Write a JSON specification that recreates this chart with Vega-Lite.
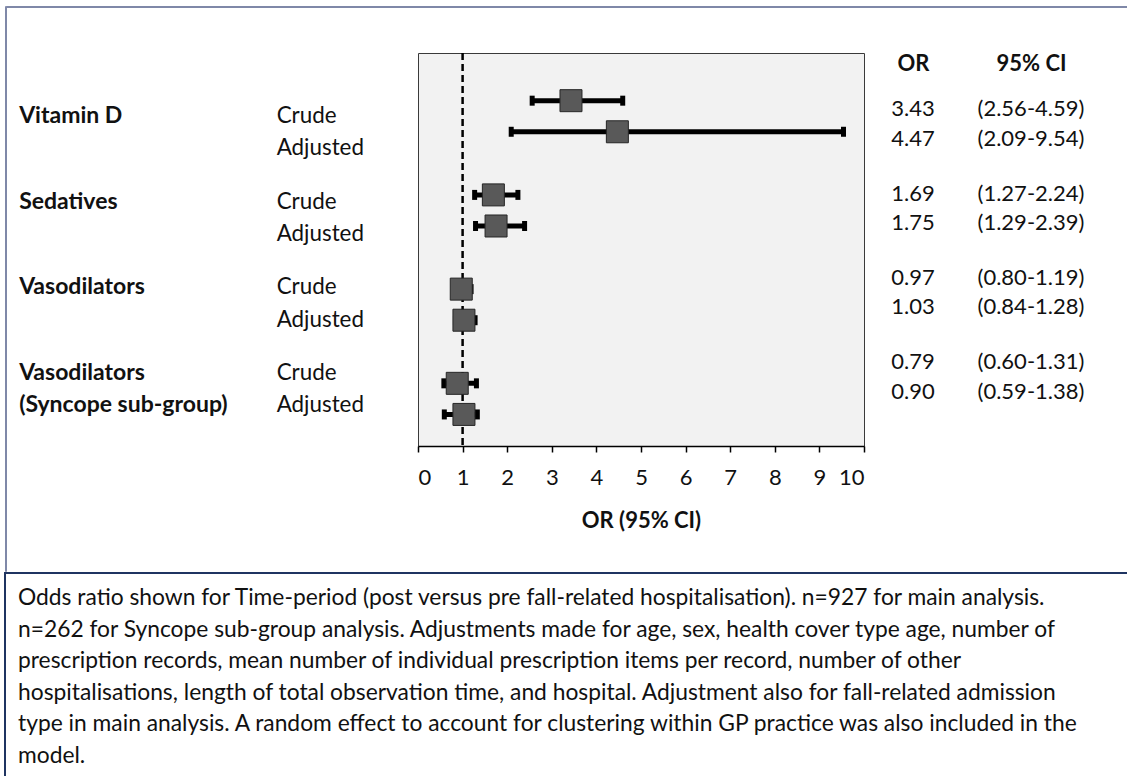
{
  "$schema": "https://vega.github.io/schema/vega-lite/v6.json",
  "padding": {"left": 4, "top": 5, "right": 0, "bottom": 0},
  "background": "white",
  "config": {"font": "Lato", "view": {"stroke": null}},
  "datasets": {
    "rows": [
      {"group": "Vitamin D", "sub": "Crude", "label": "Vitamin D", "est": 3.43, "lo": 2.56, "hi": 4.59, "OR": "3.43", "CI": "(2.56-4.59)"},
      {"group": "Vitamin D", "sub": "Adjusted", "label": "", "est": 4.47, "lo": 2.09, "hi": 9.54, "OR": "4.47", "CI": "(2.09-9.54)"},
      {"group": "Sedatives", "sub": "Crude", "label": "Sedatives", "est": 1.69, "lo": 1.27, "hi": 2.24, "OR": "1.69", "CI": "(1.27-2.24)"},
      {"group": "Sedatives", "sub": "Adjusted", "label": "", "est": 1.75, "lo": 1.29, "hi": 2.39, "OR": "1.75", "CI": "(1.29-2.39)"},
      {"group": "Vasodilators", "sub": "Crude", "label": "Vasodilators", "est": 0.97, "lo": 0.80, "hi": 1.19, "OR": "0.97", "CI": "(0.80-1.19)"},
      {"group": "Vasodilators", "sub": "Adjusted", "label": "", "est": 1.03, "lo": 0.84, "hi": 1.28, "OR": "1.03", "CI": "(0.84-1.28)"},
      {"group": "Vasodilators (Syncope sub-group)", "sub": "Crude", "label": "Vasodilators", "est": 0.88, "lo": 0.58, "hi": 1.31, "OR": "0.79", "CI": "(0.60-1.31)"},
      {"group": "Vasodilators (Syncope sub-group)", "sub": "Adjusted", "label": "(Syncope sub-group)", "est": 1.03, "lo": 0.59, "hi": 1.33, "OR": "0.90", "CI": "(0.59-1.38)"}
    ],
    "caption": [
      {"line": 1, "text": "Odds ratio shown for Time-period (post versus pre fall-related hospitalisation). n=927 for main analysis."},
      {"line": 2, "text": "n=262 for Syncope sub-group analysis. Adjustments made for age, sex, health cover type age, number of"},
      {"line": 3, "text": "prescription records, mean number of individual prescription items per record, number of other"},
      {"line": 4, "text": "hospitalisations, length of total observation time, and hospital. Adjustment also for fall-related admission"},
      {"line": 5, "text": "type in main analysis. A random effect to account for clustering within GP practice was also included in the"},
      {"line": 6, "text": "model."}
    ]
  },
  "vconcat": [
    {
      "hconcat": [
        {
          "data": {"values": [{}]},
          "width": 1,
          "height": 565,
          "view": {"stroke": "#7f88a8", "strokeWidth": 1},
          "mark": {"type": "point", "opacity": 0, "size": 0, "strokeWidth": 0},
          "encoding": {}
        },
        {
          "vconcat": [
            {
              "data": {"values": [{}]},
              "width": 1130,
              "height": 1,
              "view": {"stroke": "#7f88a8", "strokeWidth": 1},
              "mark": {"type": "point", "opacity": 0, "size": 0, "strokeWidth": 0},
              "encoding": {}
            },
            {
              "hconcat": [
                {
                  "data": {"name": "rows"},
                  "width": 412,
                  "height": 393,
                  "encoding": {
                    "y": {"field": "group", "type": "nominal", "axis": null,
                      "scale": {"type": "band", "domain": ["Vitamin D", "Sedatives", "Vasodilators", "Vasodilators (Syncope sub-group)"], "paddingInner": 0, "paddingOuter": 0.294, "align": 0.72}},
                    "yOffset": {"field": "sub", "type": "nominal",
                      "scale": {"type": "band", "domain": ["Crude", "Adjusted"], "paddingInner": 0, "paddingOuter": 0.326}}
                  },
                  "layer": [
                    {
                      "mark": {"type": "text", "align": "left", "baseline": "middle", "fontSize": 23, "fontWeight": "bold", "color": "#111"},
                      "encoding": {
                        "x": {"datum": "label", "type": "nominal", "axis": null,
                          "scale": {"type": "point", "domain": ["label", "sub"], "padding": 0.3, "align": 0.085}},
                        "text": {"field": "label"}
                      }
                    },
                    {
                      "mark": {"type": "text", "align": "left", "baseline": "middle", "fontSize": 22.4, "color": "#111"},
                      "encoding": {
                        "x": {"datum": "sub", "type": "nominal", "axis": null},
                        "text": {"field": "sub"}
                      }
                    }
                  ]
                },
                {
                  "data": {"name": "rows"},
                  "width": 446,
                  "height": 393,
                  "view": {"fill": "#f2f2f2", "stroke": "#3a3a3a", "strokeWidth": 1},
                  "encoding": {
                    "y": {"field": "group", "type": "nominal", "axis": null,
                      "scale": {"type": "band", "domain": ["Vitamin D", "Sedatives", "Vasodilators", "Vasodilators (Syncope sub-group)"], "paddingInner": 0, "paddingOuter": 0.0855, "align": 1}},
                    "yOffset": {"field": "sub", "type": "nominal",
                      "scale": {"type": "band", "domain": ["Crude", "Adjusted"], "paddingInner": 0, "paddingOuter": 0.515}}
                  },
                  "layer": [
                    {
                      "data": {"values": [{"ref": 1}]},
                      "mark": {"type": "rule", "strokeDash": [7, 4], "strokeWidth": 2.5, "color": "#000"},
                      "encoding": {
                        "x": {"field": "ref", "type": "quantitative",
                          "scale": {"domain": [0, 10], "nice": false, "zero": true},
                          "axis": {"values": [0,1,2,3,4,5,6,7,8,9,10], "title": "OR (95% CI)", "grid": false,
                            "domainColor": "#000", "domainWidth": 1.5, "tickColor": "#000", "tickWidth": 1.5, "tickSize": 6,
                            "labelFontSize": 22, "labelColor": "#111", "labelPadding": 15, "labelFont": "Lato",
                            "titleFontSize": 22, "titleFontWeight": "bold", "titleColor": "#111", "titlePadding": 22, "titleFont": "Lato"}},
                        "y": null,
                        "yOffset": null
                      }
                    },
                    {
                      "mark": {"type": "rule", "strokeWidth": 5, "color": "#000"},
                      "encoding": {
                        "x": {"field": "lo", "type": "quantitative"},
                        "x2": {"field": "hi"}
                      }
                    },
                    {
                      "transform": [{"fold": ["lo", "hi"], "as": ["end", "val"]}],
                      "mark": {"type": "tick", "thickness": 5, "size": 10, "color": "#000", "opacity": 1},
                      "encoding": {
                        "x": {"field": "val", "type": "quantitative"}
                      }
                    },
                    {
                      "mark": {"type": "point", "shape": "square", "size": 484, "filled": true, "fill": "#595959", "stroke": "#262626", "strokeWidth": 1, "opacity": 1},
                      "encoding": {
                        "x": {"field": "est", "type": "quantitative"}
                      }
                    }
                  ]
                },
                {
                  "data": {"name": "rows"},
                  "width": 300,
                  "height": 393,
                  "encoding": {
                    "y": {"field": "group", "type": "nominal", "axis": null,
                      "scale": {"type": "band", "domain": ["Vitamin D", "Sedatives", "Vasodilators", "Vasodilators (Syncope sub-group)"], "paddingInner": 0, "paddingOuter": 0.33, "align": 0.516}},
                    "yOffset": {"field": "sub", "type": "nominal",
                      "scale": {"type": "band", "domain": ["Crude", "Adjusted"], "paddingInner": 0, "paddingOuter": 0.439}}
                  },
                  "layer": [
                    {
                      "mark": {"type": "text", "align": "center", "baseline": "middle", "fontSize": 22, "color": "#111"},
                      "encoding": {
                        "x": {"datum": "OR", "type": "nominal",
                          "scale": {"type": "point", "domain": ["OR", "95% CI"], "padding": 0.771, "align": 0.269},
                          "axis": {"orient": "top", "title": null, "domain": false, "ticks": false, "grid": false,
                            "labelFontSize": 22, "labelFontWeight": "bold", "labelColor": "#111", "labelFont": "Lato",
                            "labelBaseline": "middle", "labelPadding": -10, "labelAngle": 0}},
                        "text": {"field": "OR"}
                      }
                    },
                    {
                      "mark": {"type": "text", "align": "center", "baseline": "middle", "fontSize": 22, "color": "#111"},
                      "encoding": {
                        "x": {"datum": "95% CI", "type": "nominal"},
                        "text": {"field": "CI"}
                      }
                    }
                  ]
                }
              ],
              "spacing": 0,
              "bounds": "flush",
              "resolve": {"scale": {"x": "independent", "y": "independent", "yOffset": "independent"}}
            }
          ],
          "spacing": 46,
          "bounds": "flush"
        }
      ],
      "spacing": 0,
      "bounds": "flush"
    },
    {
      "data": {"name": "caption"},
      "width": 1130,
      "height": 208,
      "view": {"stroke": "#1f3461", "strokeWidth": 2},
      "mark": {"type": "text", "align": "left", "baseline": "middle", "fontSize": 22.8, "dx": 13, "color": "#111"},
      "encoding": {
        "x": {"datum": 0, "type": "quantitative", "scale": {"domain": [0, 1]}, "axis": null},
        "y": {"field": "line", "type": "ordinal", "axis": null, "scale": {"type": "band", "paddingInner": 0, "paddingOuter": 0.3}},
        "text": {"field": "text"}
      }
    }
  ],
  "spacing": 0,
  "bounds": "full"
}
